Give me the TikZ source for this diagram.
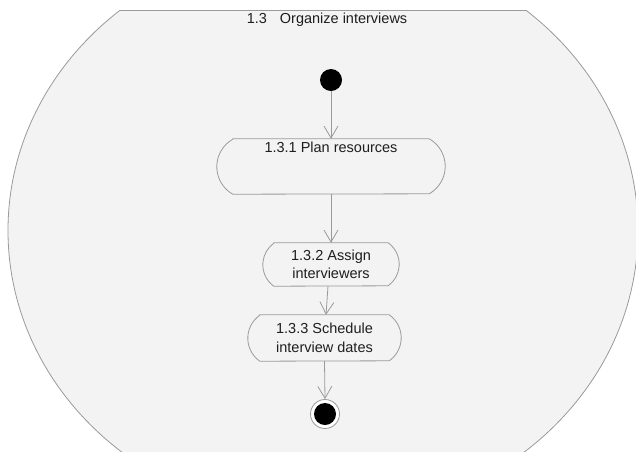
\documentclass[tikz,border=0pt]{standalone}
\usepackage{fontspec}
\newfontfamily\diagfont{Liberation Sans}
\usetikzlibrary{arrows.meta}
\definecolor{edge}{HTML}{9A9A9A}
\definecolor{region}{HTML}{F3F3F3}
\definecolor{ink}{HTML}{1E1E1E}
\tikzset{
  act/.style={rectangle, inner sep=0pt, align=center, text=ink,
    font=\diagfont\fontsize{14.5}{18.5}\selectfont},
  flow/.style={draw=edge, line width=0.8pt,
    -{Straight Barb[length=12pt,width=14pt,line width=0.8pt]}},
  startdot/.style={circle, fill=black, minimum size=22pt, inner sep=0pt},
  endring/.style={circle, draw=edge, line width=0.8pt, fill=white,
    minimum size=29pt, inner sep=0pt},
}
% outline of an action: flat top and bottom, circular arcs on the sides
% #1 node name, #2 node height, #3 how far each side bulges out
\newcommand\actoutline[3]{%
  \pgfmathsetmacro\actR{((#2)*(#2)/4+(#3)*(#3))/(2*(#3))}%
  \pgfmathsetmacro\actT{asin((#2)/2/\actR)}%
  \draw[edge, line width=0.8pt]
    ([xshift=#3pt]#1.north west) -- ([xshift=-#3pt]#1.north east)
    arc[start angle=\actT, end angle=-\actT, radius=\actR pt]
    -- ([xshift=#3pt]#1.south west)
    arc[start angle=180+\actT, end angle=180-\actT, radius=\actR pt]
    -- cycle;
}
\begin{document}
\begin{tikzpicture}[x=1pt,y=-1pt]
  \useasboundingbox[fill=white] (0,0) rectangle (636,451);

  % activity region: an ellipse cut flat at the top
  \begin{scope}
    \clip (0,10) rectangle (636,460);
    \fill[region] (323,230.5) ellipse [x radius=315, y radius=288];
    \draw[edge, line width=0.8pt] (323,230.5) ellipse [x radius=315, y radius=288];
  \end{scope}
  \coordinate (topL) at (120.4,10);
  \coordinate (topR) at (525.6,10);
  \draw[edge, line width=0.8pt] (topL) -- (topR);

  \node[text=ink, font=\diagfont\fontsize{14.5}{17}\selectfont, anchor=base]
    (title) at (327,23) {1.3\hspace{13pt}Organize interviews};

  % nodes
  \node[startdot] (start) at (331,80) {};
  \node[act, minimum width=228pt, minimum height=55pt,
        label={[text=ink, font=\diagfont\fontsize{14.5}{17}\selectfont,
                anchor=base, inner sep=0pt, yshift=-14pt]north:1.3.1 Plan resources}]
    (plan) at (331,166.5) {};
  \node[act, minimum width=136pt, minimum height=43pt]
    (assign) at (331,264.5) {1.3.2 Assign\\interviewers};
  \node[act, minimum width=153pt, minimum height=46pt]
    (sched) at (324.5,338) {1.3.3 Schedule\\interview dates};
  \node[endring] (stop) at (325,414) {};
  \fill[black] (stop.center) circle (11pt);

  \actoutline{plan}{55}{16}
  \actoutline{assign}{43}{11}
  \actoutline{sched}{46}{12}

  % control flow
  \draw[flow] (start) -- (plan.north);
  \draw[flow] (plan.south) -- (assign.north);
  \draw[flow] ([xshift=-3pt]assign.south) -- ([xshift=1.5pt]sched.north);
  \draw[flow] (sched.south) -- (stop.north);
\end{tikzpicture}
\end{document}
